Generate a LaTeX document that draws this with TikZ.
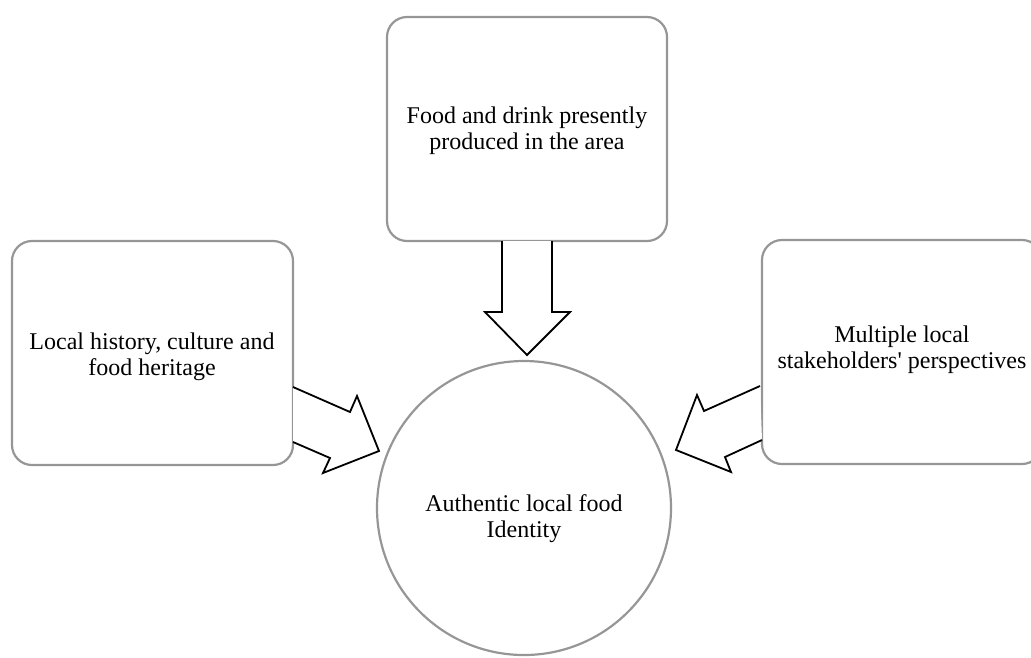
\documentclass[tikz,border=0pt]{standalone}
\usepackage{fontspec}
\setmainfont{Liberation Serif}
\begin{document}
\begin{tikzpicture}[x=1pt,y=-1pt,
  roundbox/.style={draw=boxgray,line width=2.2pt,rounded corners=20pt},
  blockarrow/.style={draw=black,line width=1.8pt,fill=white,line join=miter},
  lbl/.style={align=center,inner sep=0pt,font=\fontsize{24}{26}\selectfont}]
\definecolor{boxgray}{RGB}{150,150,150}
\useasboundingbox (0,0) rectangle (1031,657);
\clip (0,0) rectangle (1031,657);
% boxes
\draw[roundbox] (387,17) rectangle (667,241);
\node[lbl] (top) at (527,131) {Food and drink presently\\produced in the area};
\draw[roundbox] (12,241) rectangle (293,465);
\node[lbl] (left) at (152,357) {Local history, culture and\\food heritage};
\draw[roundbox] (762,240) rectangle (1042,464);
\node[lbl] (right) at (902,350) {Multiple local\\stakeholders\textquotesingle{} perspectives};
% circle
\draw[draw=boxgray,line width=2.2pt] (524,508) circle (147);
\node[lbl] (centre) at (524,519) {Authentic local food\\Identity};
% block arrows
\draw[blockarrow] (502,241) -- (502,312) -- (485,312) -- (527,355) -- (570,312) -- (552,312) -- (552,241);
\draw[blockarrow] (293,387) -- (350,412) -- (357,396) -- (379,451) -- (323,473) -- (330,458) -- (293,442);
\draw[blockarrow] (760,386) -- (704,411) -- (697,395) -- (676,450) -- (731,472) -- (725,457) -- (762,440);
\end{tikzpicture}
\end{document}
